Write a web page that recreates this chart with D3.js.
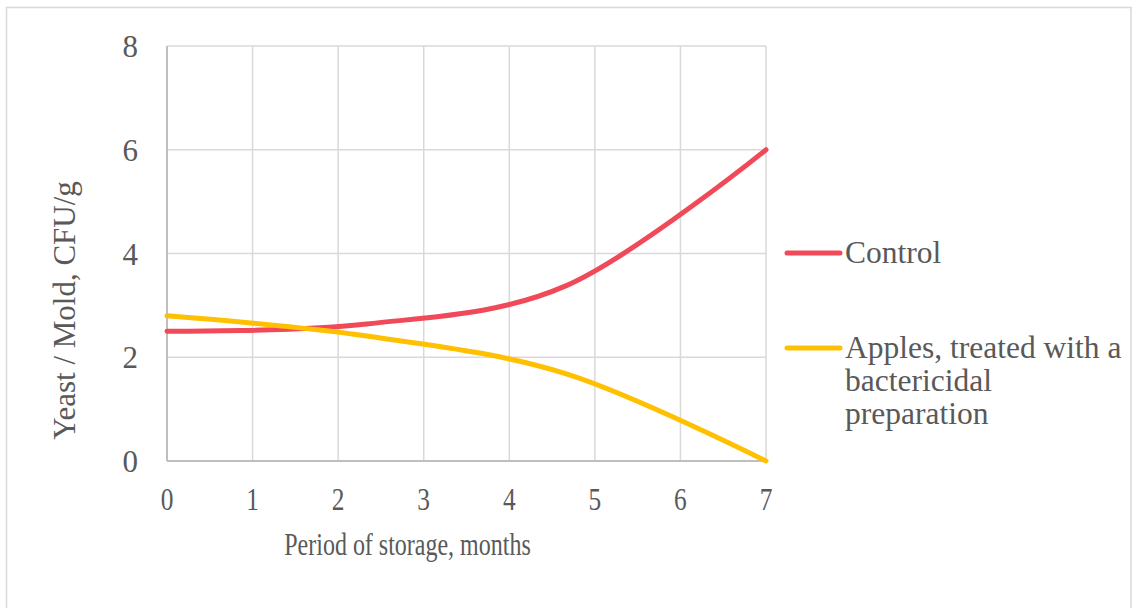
<!DOCTYPE html>
<html>
<head>
<meta charset="utf-8">
<script src="https://cdn.jsdelivr.net/npm/d3@7"></script>
<style>
  body { margin: 0; background: #fff; }
  svg { display: block; font-family: "Liberation Serif", "Times New Roman", serif; }
</style>
</head>
<body>
<svg id="chart" width="1132" height="608"></svg>
<script>
"use strict";

// storage months where samples were taken
const months = [0, 7 / 3, 14 / 3, 7];
const controlValues = [2.5, 2.64, 3.38, 6.0];
const treatedValues = [2.8, 2.41, 1.68, 0];
const seriesNames = ["Control", "Apples, treated with a bactericidal preparation"];
const xTicks = [0, 1, 2, 3, 4, 5, 6, 7];
const yTicks = [0, 2, 4, 6, 8];

const svg = d3.select("#chart");
const textColor = "#595959";

// outer frame
svg.append("rect")
  .attr("x", 6.5).attr("y", 7.5)
  .attr("width", 1124.5).attr("height", 620)
  .attr("fill", "none").attr("stroke", "#d9d9d9").attr("stroke-width", 1.5);

const x = d3.scaleLinear().domain([0, 7]).range([167, 766]);
const y = d3.scaleLinear().domain([0, 8]).range([461, 46]);

// gridlines
svg.append("g")
  .selectAll("line")
  .data(xTicks.slice(1))
  .join("line")
  .attr("x1", (d) => x(d)).attr("x2", (d) => x(d))
  .attr("y1", y(0)).attr("y2", y(8))
  .attr("stroke", "#d9d9d9").attr("stroke-width", 1.5);

svg.append("g")
  .selectAll("line")
  .data(yTicks.slice(1))
  .join("line")
  .attr("x1", x(0)).attr("x2", x(7))
  .attr("y1", (d) => y(d)).attr("y2", (d) => y(d))
  .attr("stroke", "#d9d9d9").attr("stroke-width", 1.5);

// axis lines
svg.append("line")
  .attr("x1", x(0)).attr("x2", x(0)).attr("y1", y(0)).attr("y2", y(8))
  .attr("stroke", "#bfbfbf").attr("stroke-width", 2);
svg.append("line")
  .attr("x1", x(0)).attr("x2", x(7)).attr("y1", y(0)).attr("y2", y(0))
  .attr("stroke", "#bfbfbf").attr("stroke-width", 2);

// y tick labels
svg.append("g")
  .selectAll("text")
  .data(yTicks)
  .join("text")
  .attr("x", 138)
  .attr("y", (d) => y(d) + 11)
  .attr("text-anchor", "end")
  .attr("font-size", 31)
  .attr("fill", textColor)
  .text((d) => d);

// x tick labels (horizontally condensed like the original)
svg.append("g")
  .selectAll("text")
  .data(xTicks)
  .join("text")
  .attr("transform", (d) => `translate(${x(d)},510) scale(0.82,1)`)
  .attr("text-anchor", "middle")
  .attr("font-size", 31)
  .attr("fill", textColor)
  .text((d) => d);

// axis titles
svg.append("text")
  .attr("transform", "translate(407.5,555) scale(0.75,1)")
  .attr("text-anchor", "middle")
  .attr("font-size", 32)
  .attr("fill", textColor)
  .text("Period of storage, months");

svg.append("text")
  .attr("transform", "translate(75,310.5) rotate(-90)")
  .attr("text-anchor", "middle")
  .attr("font-size", 31)
  .attr("fill", textColor)
  .text("Yeast / Mold, CFU/g");

// series lines
const line = d3.line()
  .x((d) => x(d[0]))
  .y((d) => y(d[1]))
  .curve(d3.curveCatmullRom.alpha(0));

const series = [
  { name: seriesNames[0], values: controlValues, color: "#f04a5a" },
  { name: seriesNames[1], values: treatedValues, color: "#ffc000" }
];

svg.append("g")
  .selectAll("path")
  .data(series)
  .join("path")
  .attr("d", (s) => line(months.map((m, i) => [m, s.values[i]])))
  .attr("fill", "none")
  .attr("stroke", (s) => s.color)
  .attr("stroke-width", 5)
  .attr("stroke-linecap", "round");

// legend
const legendY = [253, 348];
const legendLines = [["Control"], ["Apples, treated with a", "bactericidal", "preparation"]];

const legend = svg.append("g")
  .selectAll("g")
  .data(series)
  .join("g")
  .attr("transform", (d, i) => `translate(0,${legendY[i]})`);

legend.append("line")
  .attr("x1", 787).attr("x2", 840)
  .attr("stroke", (d) => d.color)
  .attr("stroke-width", 5)
  .attr("stroke-linecap", "round");

legend.append("text")
  .attr("x", 845)
  .attr("y", 10)
  .attr("font-size", 31.5)
  .attr("fill", textColor)
  .selectAll("tspan")
  .data((d, i) => legendLines[i])
  .join("tspan")
  .attr("x", 845)
  .attr("dy", (d, i) => (i === 0 ? 0 : 33))
  .text((d) => d);
</script>
</body>
</html>
